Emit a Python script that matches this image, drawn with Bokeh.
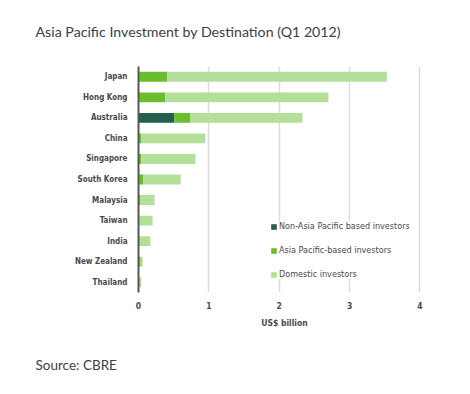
from bokeh.plotting import figure
from bokeh.models import FactorRange, Range1d, Legend, LegendItem, Title, FixedTicker, LinearAxis
from bokeh.embed import file_html
from bokeh.resources import INLINE

countries = ["Japan", "Hong Kong", "Australia", "China", "Singapore", "South Korea",
             "Malaysia", "Taiwan", "India", "New Zealand", "Thailand"]
non_asia = [0.01, 0.01, 0.51, 0.01, 0.01, 0.01, 0.01, 0.0, 0.0, 0.01, 0.0]
asia = [0.40, 0.37, 0.23, 0.03, 0.03, 0.06, 0.01, 0.01, 0.0, 0.02, 0.01]
domestic = [3.12, 2.32, 1.59, 0.91, 0.77, 0.53, 0.21, 0.19, 0.17, 0.03, 0.03]
series = ["non_asia", "asia", "domestic"]
series_labels = ["Non-Asia Pacific based investors", "Asia Pacific-based investors", "Domestic investors"]
colors = ["#245f4c", "#6abd2c", "#b3df98"]
x_ticks = [0, 1, 2, 3, 4]

FONT = "DejaVu Sans Condensed"
TXT = "#4a4a4a"

p = figure(width=470, height=394, output_backend="svg", toolbar_location=None,
           y_range=FactorRange(factors=list(reversed(countries)), range_padding=0),
           x_range=Range1d(0, 4.15),
           min_border_left=138, min_border_right=40, min_border_top=66, min_border_bottom=102)
p.outline_line_color = None
p.background_fill_color = "white"
p.border_fill_color = "white"

data = dict(country=countries, non_asia=non_asia, asia=asia, domestic=domestic)
rs = p.hbar_stack(series, y="country", height=0.48, color=colors, source=data, line_color=None)

p.ygrid.grid_line_color = None
p.xgrid.grid_line_color = "#dcdcdc"
p.xgrid.grid_line_width = 1.5
p.xgrid.ticker = FixedTicker(ticks=x_ticks[1:])

p.xaxis.ticker = FixedTicker(ticks=x_ticks)
p.xaxis.axis_line_color = None
p.xaxis.major_tick_line_color = None
p.xaxis.minor_tick_line_color = None
p.xaxis.major_label_text_font = FONT
p.xaxis.major_label_text_font_size = "8.5px"
p.xaxis.major_label_text_font_style = "bold"
p.xaxis.major_label_text_color = TXT
p.xaxis.major_label_standoff = 3
p.xaxis.axis_label = "US$ billion"
p.xaxis.axis_label_text_font = FONT
p.xaxis.axis_label_text_font_size = "8.5px"
p.xaxis.axis_label_text_font_style = "bold"
p.xaxis.axis_label_text_color = TXT
p.xaxis.axis_label_standoff = 6

p.yaxis.axis_line_color = "#555555"
p.yaxis.axis_line_width = 2
p.yaxis.major_tick_line_color = None
p.yaxis.minor_tick_line_color = None
p.yaxis.major_label_text_font = FONT
p.yaxis.major_label_text_font_size = "8px"
p.yaxis.major_label_text_font_style = "bold"
p.yaxis.major_label_text_color = TXT
p.yaxis.major_label_standoff = 5

legend = Legend(items=[LegendItem(label=l, renderers=[r]) for l, r in zip(series_labels, rs)],
                location=(132, 13), orientation="vertical",
                border_line_color=None, background_fill_color="white", background_fill_alpha=1.0,
                glyph_width=7, glyph_height=7, label_height=8, spacing=14,
                label_text_font=FONT, label_text_font_size="9px", label_text_color=TXT,
                label_standoff=2, padding=4, margin=0)
p.add_layout(legend, "center")


def spacer(size):
    # invisible axis (one hidden tick, empty label) that only reserves vertical space
    return LinearAxis(ticker=FixedTicker(ticks=[2]), axis_line_color=None,
                      major_tick_line_color=None, minor_tick_line_color=None,
                      major_tick_out=size, major_tick_in=0, minor_tick_out=0,
                      major_label_standoff=0, major_label_overrides={2: ""})


p.add_layout(spacer(22), "above")
title = Title(text="Asia Pacific Investment by Destination (Q1 2012)", align="left",
              offset=-103, standoff=10,
              text_font="Lato", text_font_size="14.2px", text_font_style="normal",
              text_color="#404040")
p.add_layout(title, "above")

p.add_layout(spacer(19), "below")
source = Title(text="Source: CBRE", align="left", offset=-103, standoff=10,
               text_font="Lato", text_font_size="13.5px", text_font_style="normal",
               text_color="#404040")
p.add_layout(source, "below")

open("out.html", "w").write(file_html(p, INLINE))
